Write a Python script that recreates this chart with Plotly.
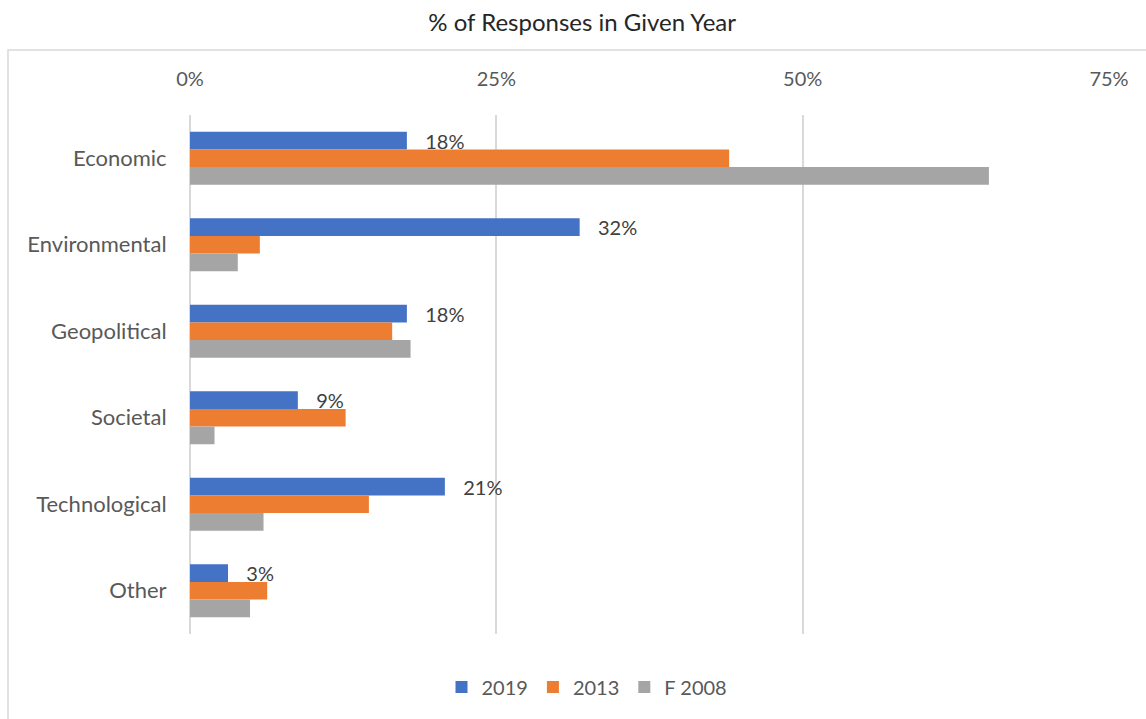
import plotly.graph_objects as go

categories = ["Economic", "Environmental", "Geopolitical", "Societal", "Technological", "Other"]
series_names = ["2019", "2013", "F 2008"]
values_2019 = [0.177, 0.318, 0.177, 0.088, 0.208, 0.031]
values_2013 = [0.440, 0.057, 0.165, 0.127, 0.146, 0.063]
values_2008 = [0.652, 0.039, 0.180, 0.020, 0.060, 0.049]
colors = ["#4472C4", "#ED7D31", "#A5A5A5"]
tick_vals = [0, 0.25, 0.5, 0.75]
tick_text = ["0%", "25%", "50%", "75%"]

FONT = "Lato"
fig = go.Figure()
for name, vals, col, show_text in zip(series_names, [values_2019, values_2013, values_2008], colors, [True, False, False]):
    fig.add_trace(go.Bar(
        y=categories, x=vals, name=name, orientation="h",
        marker=dict(color=col, line=dict(width=0)),
        text=[f"\u00a0\u00a0\u00a0{v:.0%}" for v in vals] if show_text else None,
        textposition="outside" if show_text else "none",
        constraintext="none",
        textfont=dict(family=FONT, size=20, color="#404040"),
        cliponaxis=False,
        hoverinfo="skip",
    ))

fig.update_layout(
    width=1146, height=719,
    barmode="group", bargap=0.387, bargroupgap=0,
    plot_bgcolor="white", paper_bgcolor="white",
    margin=dict(l=190, r=37, t=115, b=85),
    font=dict(family=FONT, color="#595959"),
    title=dict(text="% of Responses in Given Year", x=0.508, xanchor="center",
               y=1 - 23 / 719, yanchor="middle",
               font=dict(family=FONT, size=24, color="#262626")),
    xaxis=dict(side="top", range=[0, 0.75], tickvals=tick_vals, ticktext=tick_text,
               showgrid=True, gridcolor="#d9d9d9", gridwidth=1.5,
               zeroline=True, zerolinecolor="#d9d9d9", zerolinewidth=1.5,
               showline=False, ticks="outside", ticklen=20, tickcolor="rgba(0,0,0,0)",
               tickfont=dict(family=FONT, size=20, color="#595959"), fixedrange=True),
    yaxis=dict(autorange="reversed", showgrid=False, zeroline=False, showline=False,
               ticks="outside", ticklen=18, tickcolor="rgba(0,0,0,0)",
               tickfont=dict(family=FONT, size=22, color="#595959")),
    legend=dict(orientation="h", x=0.432, xanchor="center", y=-0.102, yanchor="middle",
                font=dict(family=FONT, size=20, color="#595959"), traceorder="normal"),
    shapes=[dict(type="rect", xref="paper", yref="paper",
                 x0=(8 - 190) / 919, x1=1.2, y0=(634 - 50) / 519, y1=-0.5,
                 line=dict(color="#d9d9d9", width=1.5), fillcolor="rgba(0,0,0,0)",
                 layer="below")],
)

fig.write_html("out.html")
